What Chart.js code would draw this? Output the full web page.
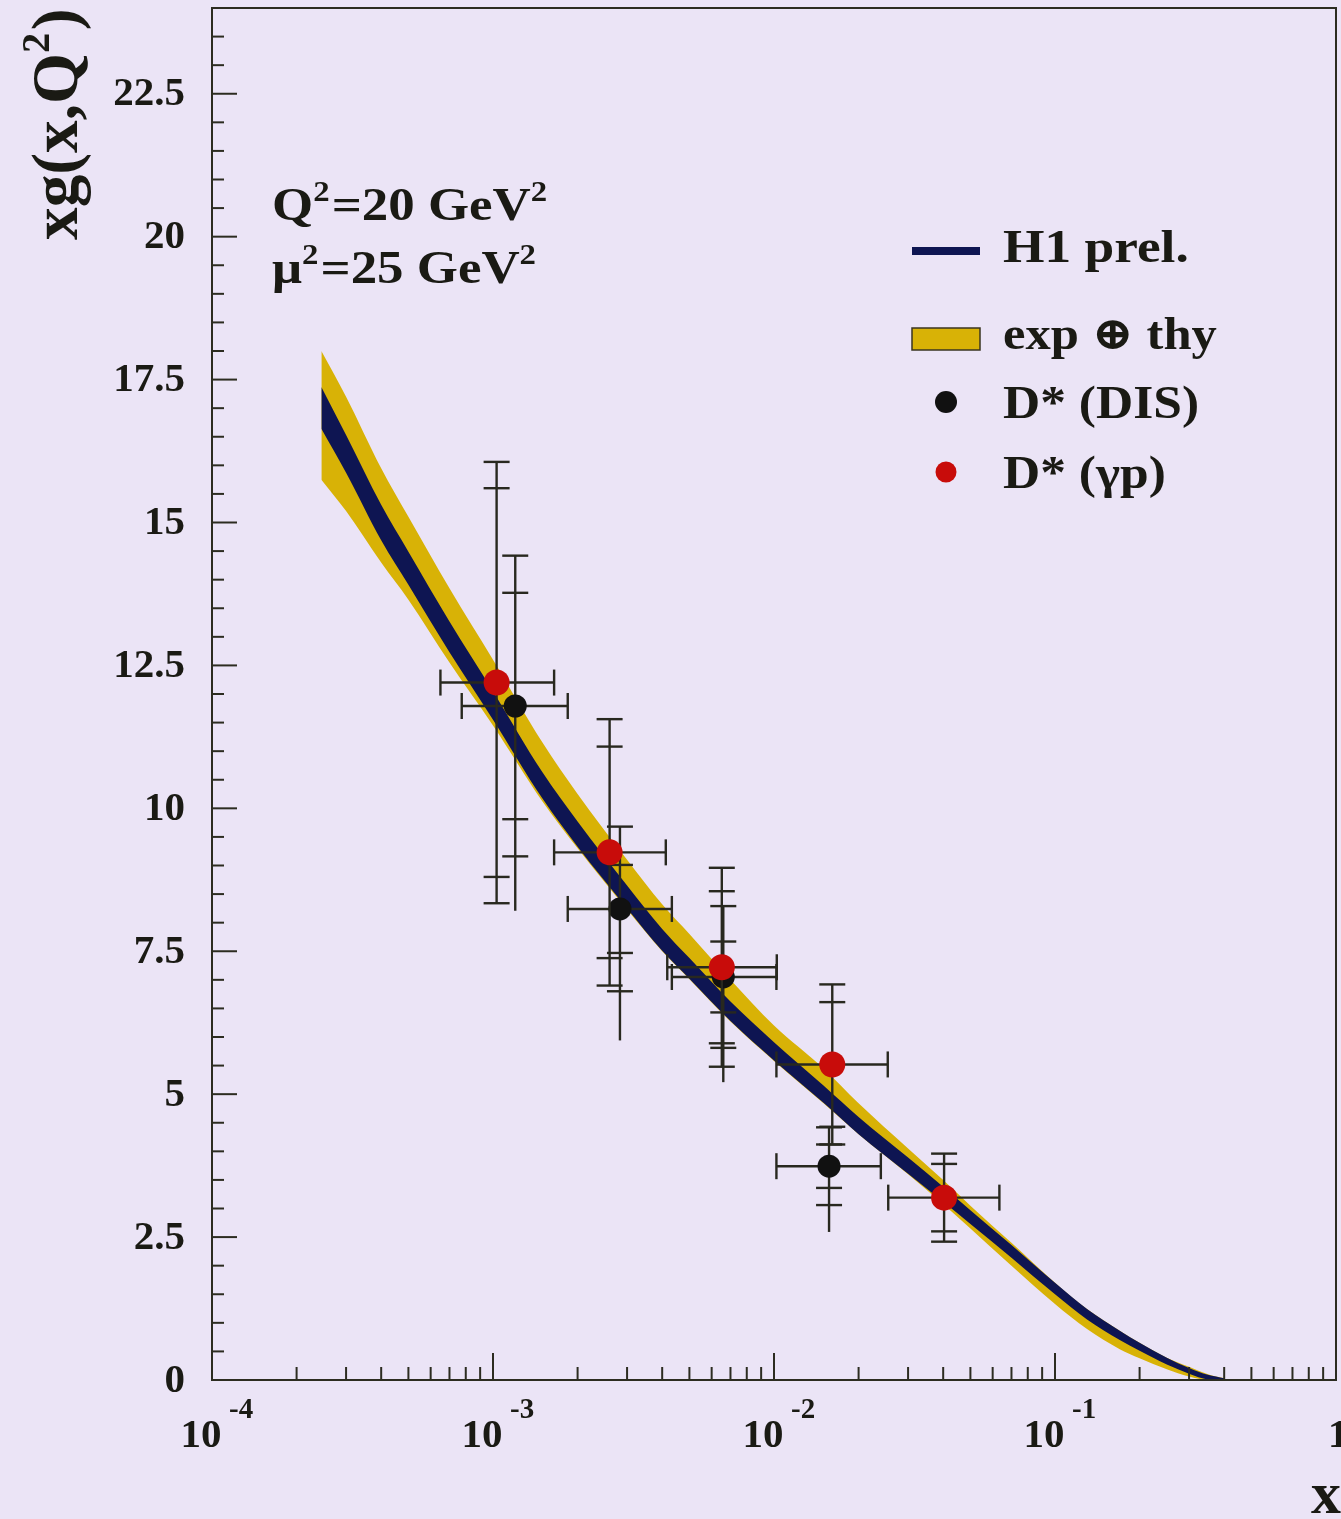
<!DOCTYPE html>
<html>
<head>
<meta charset="utf-8">
<script src="https://cdn.jsdelivr.net/npm/chart.js@4.4.1/dist/chart.umd.min.js"></script>
<style>
  html, body { margin: 0; padding: 0; background: #ebe4f6; }
  #wrap { width: 1341px; height: 1519px; }
</style>
</head>
<body>
<div id="wrap"><canvas id="gluon" width="1341" height="1519"></canvas></div>
<script>
// H1 fit of the gluon density xg(x,Q^2) at Q^2 = 20 GeV^2
const xGrid  = [2.45e-4, 3e-4, 4e-4, 5e-4, 7e-4, 1e-3, 1.5e-3, 2e-3, 3e-3, 4e-3, 5e-3, 7e-3,
                1e-2, 1.5e-2, 2e-2, 3e-2, 4e-2, 5e-2, 7e-2, 0.1, 0.13, 0.17, 0.2, 0.25, 0.3, 0.35, 0.4];
// exp (+) thy band
const bandHi = [18.0, 17.2, 15.95, 15.1, 13.85, 12.6, 11.15, 10.25, 9.1, 8.32, 7.8, 7.0,
                6.2, 5.45, 4.84, 4.05, 3.5, 3.05, 2.4, 1.7, 1.24, 0.86, 0.65, 0.39, 0.23, 0.10, 0.03];
const bandLo = [15.75, 15.2, 14.3, 13.65, 12.55, 11.45, 10.12, 9.3, 8.23, 7.5, 7.01, 6.27,
                5.58, 4.84, 4.3, 3.6, 3.08, 2.65, 2.0, 1.33, 0.89, 0.54, 0.38, 0.19, 0.06, 0.0, 0.0];
// central H1 prel. curve (experimental error only)
const h1Hi   = [17.37, 16.53, 15.31, 14.49, 13.27, 12.05, 10.63, 9.77, 8.65, 7.89, 7.38, 6.62,
                5.91, 5.15, 4.6, 3.89, 3.38, 2.97, 2.36, 1.7, 1.24, 0.86, 0.65, 0.39, 0.21, 0.09, 0.03];
const h1Lo   = [16.64, 15.87, 14.69, 13.91, 12.73, 11.55, 10.17, 9.33, 8.25, 7.51, 7.02, 6.28,
                5.59, 4.85, 4.3, 3.61, 3.12, 2.73, 2.14, 1.5, 1.06, 0.70, 0.51, 0.27, 0.11, 0.01, 0.0];

// D* in DIS
const disX    = [1.2e-3, 2.83e-3, 6.6e-3, 1.57e-2];
const disY    = [11.79, 8.24, 7.05, 3.74];
const disStat = [1.98, 0.77, 0.62, 0.38];
const disTot  = [2.63, 1.44, 1.24, 0.68];
const disLow  = [8.21, 5.94, 5.21, 2.59];
const disXlo  = [7.74e-4, 1.845e-3, 4.33e-3, 1.02e-2];
const disXhi  = [1.845e-3, 4.33e-3, 1.02e-2, 2.40e-2];

// D* in photoproduction
const gpX    = [1.03e-3, 2.6e-3, 6.52e-3, 1.612e-2, 4.03e-2];
const gpY    = [12.2, 9.23, 7.22, 5.52, 3.19];
const gpStat = [3.4, 1.85, 1.33, 1.09, 0.59];
const gpTot  = [3.86, 2.33, 1.74, 1.40, 0.77];
const gpXlo  = [6.5e-4, 1.65e-3, 4.17e-3, 1.02e-2, 2.55e-2];
const gpXhi  = [1.65e-3, 4.12e-3, 1.023e-2, 2.54e-2, 6.34e-2];

const yTicks = ['0', '2.5', '5', '7.5', '10', '12.5', '15', '17.5', '20', '22.5'];
const xDecades = [-4, -3, -2, -1];

const YELLOW = '#d8b206';
const NAVY = '#0e1552';
const RED = '#c80c0a';
const INK = '#1a1a14';
const BAR = '#28281f';
const SERIF = '"Liberation Serif", "DejaVu Serif", "Times New Roman", serif';

const pts = (xs, ys) => xs.map((v, i) => ({ x: v, y: ys[i] }));

function bold(size) { return `bold ${size}px ${SERIF}`; }

// text with raised pieces, e.g. [['Q',0],['2',1]]
function drawRich(ctx, parts, x, y, size, sx) {
  ctx.save();
  ctx.translate(x, y);
  ctx.scale(sx, 1);
  ctx.fillStyle = INK;
  ctx.textBaseline = 'alphabetic';
  ctx.textAlign = 'left';
  let cx = 0;
  for (const [t, sup] of parts) {
    const s = sup ? size * 0.62 : size;
    ctx.font = bold(s);
    ctx.fillText(t, cx, sup ? -size * 0.42 : 0);
    cx += ctx.measureText(t).width + (sup ? size * 0.04 : 0);
  }
  ctx.restore();
}

function seg(ctx, x1, y1, x2, y2) {
  ctx.beginPath();
  ctx.moveTo(x1, y1);
  ctx.lineTo(x2, y2);
  ctx.stroke();
}

function drawErrors(chart, xs, ys, stat, tot, low, xlo, xhi) {
  const { ctx, scales: { x, y } } = chart;
  ctx.save();
  ctx.strokeStyle = BAR;
  ctx.lineWidth = 2.4;
  xs.forEach((xv, i) => {
    const px = x.getPixelForValue(xv);
    const py = y.getPixelForValue(ys[i]);
    const xl = x.getPixelForValue(xlo[i]);
    const xr = x.getPixelForValue(xhi[i]);
    seg(ctx, xl, py, xr, py);
    seg(ctx, xl, py - 13, xl, py + 13);
    seg(ctx, xr, py - 13, xr, py + 13);
    const top = y.getPixelForValue(ys[i] + tot[i]);
    const bot = y.getPixelForValue(low ? low[i] : ys[i] - tot[i]);
    seg(ctx, px, top, px, bot);
    [ys[i] + tot[i], ys[i] + stat[i], ys[i] - stat[i], ys[i] - tot[i]].forEach(v => {
      const ty = y.getPixelForValue(v);
      seg(ctx, px - 13, ty, px + 13, ty);
    });
  });
  ctx.restore();
}

const decor = {
  id: 'decor',
  beforeDraw(chart) {
    const { ctx, width, height } = chart;
    ctx.save();
    ctx.fillStyle = '#ebe4f6';
    ctx.fillRect(0, 0, width, height);
    ctx.restore();
  },
  beforeDatasetDraw(chart, args) {
    if (args.index === 4) drawErrors(chart, disX, disY, disStat, disTot, disLow, disXlo, disXhi);
    if (args.index === 5) drawErrors(chart, gpX, gpY, gpStat, gpTot, null, gpXlo, gpXhi);
  },
  afterDraw(chart) {
    const { ctx, chartArea: a, scales: { x, y } } = chart;
    ctx.save();
    ctx.strokeStyle = '#2c2c20';
    ctx.lineWidth = 2;
    ctx.strokeRect(a.left, a.top, a.right - a.left, a.bottom - a.top);

    // y ticks every 0.5, long ones every 2.5
    for (let v = 0.5; v < 24; v += 0.5) {
      const ty = y.getPixelForValue(v);
      const len = Math.abs(v / 2.5 - Math.round(v / 2.5)) < 1e-6 ? 25 : 12;
      seg(ctx, a.left, ty, a.left + len, ty);
    }
    // x ticks, log spaced
    for (const d of [-4, -3, -2, -1]) {
      for (let m = 1; m <= 9; m++) {
        const tx = x.getPixelForValue(m * Math.pow(10, d));
        seg(ctx, tx, a.bottom, tx, a.bottom - (m === 1 ? 27 : 13));
      }
    }

    // y tick labels
    ctx.fillStyle = INK;
    ctx.font = bold(41);
    ctx.textAlign = 'right';
    ctx.textBaseline = 'middle';
    yTicks.forEach(t => ctx.fillText(t, 185, y.getPixelForValue(parseFloat(t)) + 1));

    // x tick labels
    xDecades.forEach(d => {
      const tx = x.getPixelForValue(Math.pow(10, d));
      ctx.font = bold(41);
      ctx.textAlign = 'center';
      ctx.textBaseline = 'alphabetic';
      ctx.fillText('10', tx - 11, 1447);
      ctx.font = bold(29);
      ctx.textAlign = 'left';
      ctx.fillText(String(d), tx + 17, 1418);
    });
    ctx.font = bold(41);
    ctx.textAlign = 'left';
    ctx.fillText('1', x.getPixelForValue(1) - 8, 1447);

    // axis titles
    ctx.font = bold(60);
    ctx.textAlign = 'right';
    ctx.fillText('x', 1341, 1513);
    ctx.restore();

    ctx.save();
    ctx.translate(77, 240);
    ctx.rotate(-Math.PI / 2);
    drawRich(ctx, [['xg(x,Q', 0], ['2', 1], [')', 0]], 0, 0, 66, 0.99);
    ctx.restore();

    // kinematics
    drawRich(ctx, [['Q', 0], ['2', 1], ['=20 GeV', 0], ['2', 1]], 272, 220, 46, 1.15);
    drawRich(ctx, [['\u03bc', 0], ['2', 1], ['=25 GeV', 0], ['2', 1]], 272, 283, 46, 1.15);

    // legend
    ctx.save();
    ctx.fillStyle = NAVY;
    ctx.fillRect(912, 247, 68, 8);
    ctx.fillStyle = YELLOW;
    ctx.fillRect(912, 328, 68, 22);
    ctx.strokeStyle = '#3a3420';
    ctx.lineWidth = 1.5;
    ctx.strokeRect(912, 328, 68, 22);
    ctx.fillStyle = '#111';
    ctx.beginPath(); ctx.arc(946, 402, 11, 0, Math.PI * 2); ctx.fill();
    ctx.fillStyle = RED;
    ctx.beginPath(); ctx.arc(946, 472, 10.5, 0, Math.PI * 2); ctx.fill();
    ctx.restore();
    drawRich(ctx, [['H1 prel.', 0]], 1003, 262, 46, 1.16);
    drawRich(ctx, [['exp \u2295 thy', 0]], 1003, 349, 46, 1.1);
    drawRich(ctx, [['D* (DIS)', 0]], 1003, 418, 46, 1.12);
    drawRich(ctx, [['D* (\u03b3p)', 0]], 1003, 488, 46, 1.12);
  }
};

const bandStyle = { pointRadius: 0, borderWidth: 0, cubicInterpolationMode: 'monotone' };

new Chart(document.getElementById('gluon'), {
  type: 'line',
  data: {
    datasets: [
      { label: 'exp \u2295 thy', data: pts(xGrid, bandHi), fill: '+1', backgroundColor: YELLOW, order: 4, ...bandStyle },
      { label: 'band low', data: pts(xGrid, bandLo), fill: false, order: 4, ...bandStyle },
      { label: 'H1 prel.', data: pts(xGrid, h1Hi), fill: '+1', backgroundColor: NAVY, order: 3, ...bandStyle },
      { label: 'H1 low', data: pts(xGrid, h1Lo), fill: false, order: 3, ...bandStyle },
      { label: 'D* (DIS)', data: pts(disX, disY), showLine: false, order: 2,
        pointRadius: 11.5, pointBackgroundColor: '#111', pointBorderWidth: 0 },
      { label: 'D* (\u03b3p)', data: pts(gpX, gpY), showLine: false, order: 1,
        pointRadius: 13, pointBackgroundColor: RED, pointBorderWidth: 0 }
    ]
  },
  options: {
    responsive: false,
    animation: false,
    layout: { autoPadding: false, padding: { left: 212, right: 5, top: 8, bottom: 139 } },
    plugins: { legend: { display: false }, tooltip: { enabled: false } },
    scales: {
      x: { type: 'logarithmic', min: 1e-4, max: 1, display: false },
      y: { type: 'linear', min: 0, max: 24, display: false }
    }
  },
  plugins: [decor]
});
</script>
</body>
</html>
